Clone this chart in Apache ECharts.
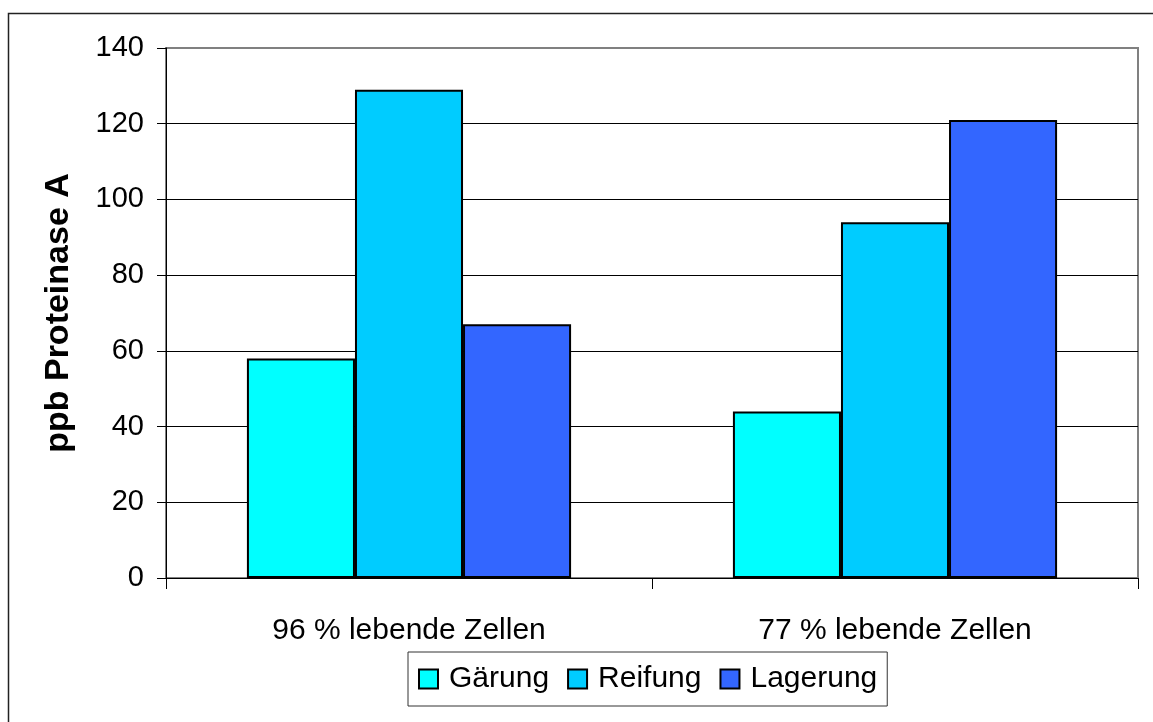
<!DOCTYPE html>
<html>
<head>
<meta charset="utf-8">
<script src="https://cdn.jsdelivr.net/npm/echarts@6/dist/echarts.min.js"></script>
<style>
  html, body { margin: 0; padding: 0; background: #fff; }
  #chart { width: 1153px; height: 722px; }
</style>
</head>
<body>
<div id="chart"></div>
<script>
// Proteinase A concentration by process stage and yeast viability
const categories = ['96 % lebende Zellen', '77 % lebende Zellen'];
const seriesNames = ['Gärung', 'Reifung', 'Lagerung'];
const gaerung = [58, 44];
const reifung = [129, 94];
const lagerung = [67, 121];
const yTicks = [0, 20, 40, 60, 80, 100, 120, 140];

const colors = ['#00FFFF', '#00CCFF', '#3366FF'];
const values = [gaerung, reifung, lagerung];
const font = '"Liberation Sans", Arial, Helvetica, sans-serif';

const chart = echarts.init(document.getElementById('chart'), null, { renderer: 'canvas' });

chart.setOption({
  animation: false,
  backgroundColor: '#fff',
  textStyle: { fontFamily: font, color: '#000' },
  graphic: [
    {
      type: 'rect',
      shape: { x: 8.5, y: 13.5, width: 1160, height: 730 },
      style: { fill: 'none', stroke: '#222', lineWidth: 1.5 },
      z: -1
    }
  ],
  grid: {
    left: 166, top: 48, right: 15, bottom: 144,
    show: true, borderColor: '#808080', borderWidth: 2, backgroundColor: 'transparent'
  },
  legend: {
    data: seriesNames,
    left: 408, top: 652,
    icon: 'rect',
    itemWidth: 19, itemHeight: 19,
    itemGap: 18,
    padding: [12, 10, 12, 10],
    borderColor: '#333', borderWidth: 1,
    textStyle: { fontSize: 30, fontFamily: font, color: '#000', padding: [0, 0, 0, 6] }
  },
  xAxis: {
    type: 'category',
    data: categories,
    axisLine: { lineStyle: { color: '#000', width: 1 } },
    axisTick: { show: true, length: 11, lineStyle: { color: '#000' } },
    axisLabel: { fontSize: 30, color: '#000', margin: 38, fontFamily: font }
  },
  yAxis: {
    type: 'value',
    min: yTicks[0], max: yTicks[yTicks.length - 1], interval: 20,
    name: 'ppb Proteinase A',
    nameLocation: 'middle',
    nameGap: 90,
    nameTextStyle: { fontSize: 34, fontWeight: 'bold', color: '#000', fontFamily: font },
    axisLine: { show: true, lineStyle: { color: '#000', width: 1 } },
    axisTick: { show: true, length: 9, lineStyle: { color: '#000' } },
    axisLabel: { fontSize: 29, color: '#000', margin: 22, fontFamily: font },
    splitLine: {
      show: true,
      lineStyle: { color: ['#000', '#000', '#000', '#000', '#000', '#000', '#000', '#808080'], width: 1 }
    }
  },
  series: seriesNames.map((name, i) => ({
    name,
    type: 'bar',
    data: values[i],
    barGap: '0%',
    barCategoryGap: '33.3%',
    itemStyle: { color: colors[i], borderColor: '#000', borderWidth: 2 }
  }))
});
</script>
</body>
</html>
